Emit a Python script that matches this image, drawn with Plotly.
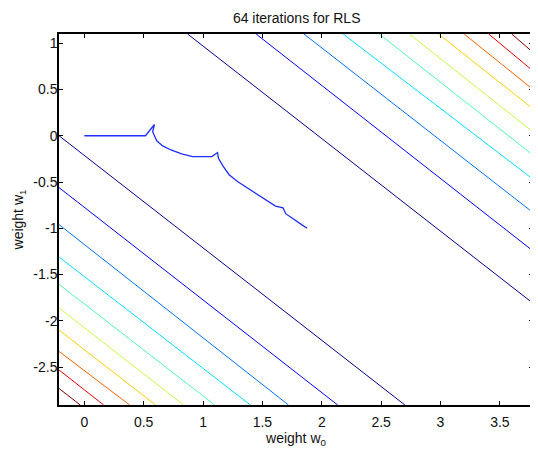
import plotly.graph_objects as go

# ---- data ----
# contour level colours (MATLAB jet, 10 levels, inner -> outer)
level_colors = ["#00008F", "#0000FF", "#0070FF", "#00DFFF", "#50FFAF",
                "#BFFF40", "#FFCF00", "#FF6000", "#EF0000", "#800000"]
# lower-left contour branch: w1 where it meets the left edge, w0 where it meets the bottom edge
ll_left_w1 = [0.0, -0.56, -0.96, -1.31, -1.605, -1.86, -2.10, -2.33, -2.53, -2.73]
ll_bottom_w0 = [2.70, 2.134, 1.72, 1.399, 1.098, 0.837, 0.601, 0.382, 0.163, -0.034]
# upper-right contour branch: w0 where it meets the top edge, w1 where it meets the right edge
ur_top_w0 = [0.870, 1.447, 1.85, 2.18, 2.484, 2.738, 2.983, 3.199, 3.406, 3.60]
ur_right_w1 = [-1.81, -1.245, -0.83, -0.47, -0.21, 0.04, 0.29, 0.50, 0.70, 0.90]

# RLS weight trajectory
traj_w0 = [0.0, 0.515, 0.591, 0.576, 0.61, 0.66, 0.73, 0.82, 0.912, 1.075, 1.122, 1.13,
           1.17, 1.22, 1.29, 1.36, 1.43, 1.5, 1.61, 1.674, 1.696, 1.74, 1.78, 1.83, 1.877]
traj_w1 = [0.0, 0.0, 0.121, 0.043, -0.054, -0.11, -0.154, -0.195, -0.225, -0.225, -0.182, -0.243,
           -0.33, -0.421, -0.495, -0.553, -0.612, -0.663, -0.76, -0.778, -0.842, -0.88, -0.92, -0.96, -0.999]

x_range = [-0.213, 3.779]
y_range = [-2.909, 1.099]
x_ticks = [0, 0.5, 1, 1.5, 2, 2.5, 3, 3.5]
x_ticktext = ["0", "0.5", "1", "1.5", "2", "2.5", "3", "3.5"]
y_ticks = [1, 0.5, 0, -0.5, -1, -1.5, -2, -2.5]
y_ticktext = ["1", "0.5", "0", "-0.5", "-1", "-1.5", "-2", "-2.5"]

fig = go.Figure()
for c, yl, xb in zip(level_colors, ll_left_w1, ll_bottom_w0):
    fig.add_trace(go.Scatter(x=[x_range[0], xb], y=[yl, y_range[0]], mode="lines",
                             line=dict(color=c, width=1), hoverinfo="skip", showlegend=False))
for c, xt, yr in zip(level_colors, ur_top_w0, ur_right_w1):
    fig.add_trace(go.Scatter(x=[xt, x_range[1]], y=[y_range[1], yr], mode="lines",
                             line=dict(color=c, width=1), hoverinfo="skip", showlegend=False))
fig.add_trace(go.Scatter(x=traj_w0, y=traj_w1, mode="lines",
                         line=dict(color="#1F2FFF", width=1.3), showlegend=False))

font = dict(family="Liberation Sans, Arial, Helvetica, sans-serif", size=14, color="#111111")
axis_common = dict(showgrid=False, zeroline=False, showline=True, linecolor="black", linewidth=1.5,
                   mirror="ticks", ticks="inside", ticklen=4, tickwidth=1, tickcolor="black",
                   tickfont=font)
# page body keeps its default 8px margin, so the figure is sized to fit the 538x456 window
fig.update_layout(
    width=530, height=440,
    margin=dict(l=51, r=3, t=26, b=38),
    paper_bgcolor="white", plot_bgcolor="white",
    font=font,
    title=dict(text="64 iterations for RLS", x=0.5447, xanchor="center",
               y=1 - 10 / 440, yanchor="middle", yref="container", font=font),
    xaxis=dict(range=x_range, tickvals=x_ticks, ticktext=x_ticktext, ticklabelstandoff=3,
               title=dict(text="weight w<sub>0</sub>", font=font, standoff=6), **axis_common),
    yaxis=dict(range=y_range, tickvals=y_ticks, ticktext=y_ticktext, ticklabelstandoff=-3,
               title=dict(text="weight w<sub>1</sub>", font=font, standoff=6), **axis_common),
)
fig.write_html("out.html")
